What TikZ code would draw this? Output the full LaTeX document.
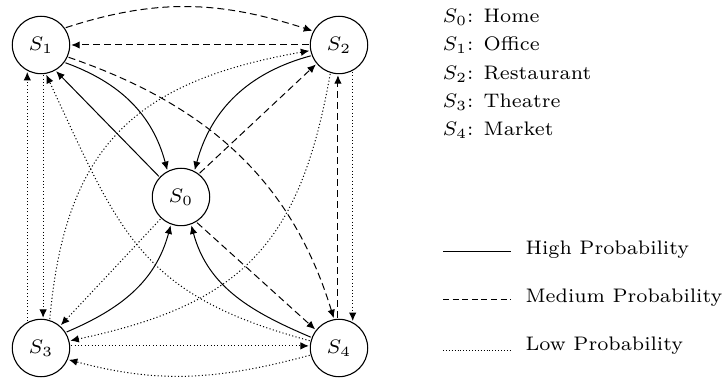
\documentclass[tikz,border=0pt]{standalone}
\usetikzlibrary{arrows.meta}
\begin{document}
\begin{tikzpicture}[x=1pt,y=-1pt,
  lbl/.style={font=\fontsize{7}{8.4}\selectfont, scale=2.8},
  state/.style={circle, draw, line width=1.1pt, minimum size=20.5pt, inner sep=0pt, lbl},
  link/.style={line width=1pt, -{Latex[length=8.5pt,width=7.5pt]}},
  hi/.style={link},
  med/.style={link, dash pattern=on 7pt off 4pt},
  low/.style={link, dash pattern=on 1.1pt off 2.3pt},
  keytext/.style={lbl, anchor=base west, inner sep=0pt},
]
\useasboundingbox (0,0) rectangle (726,379);

% states
\node[state] (S1) at (41,45)   {$S_1$};
\node[state] (S2) at (339,45)  {$S_2$};
\node[state] (S0) at (181,197) {$S_0$};
\node[state] (S3) at (41,348)  {$S_3$};
\node[state] (S4) at (339,348) {$S_4$};

% high probability transitions
\draw[hi] (S0.137) -- (S1.-60);
\draw[hi] (S1.-36) to[out=-20, in=105] (S0.117);
\draw[hi] (S2.201) to[out=195, in=75] (S0.63);
\draw[hi] (S3.32)  to[out=23, in=-105] (S0.-110);
\draw[hi] (S4.159) to[out=157, in=-75] (S0.-70);

% medium probability transitions
\draw[med] (S1.35) to[out=18, in=162] (S2.152);
\draw[med] (S2.west) -- (S1.east);
\draw[med] (S1.-24) to[out=-19, in=107] (S4.100);
\draw[med] (S4.92) -- (S2.-92);
\draw[med] (S0.52) -- (S2.220);
\draw[med] (S0.-58) -- (S4.142);

% low probability transitions
\draw[low] (S3.73)  to[out=85, in=190, looseness=1.2] (S2.191);
\draw[low] (S2.253) to[out=260, in=12, looseness=1.2] (S3.14);
\draw[low] (S4.166) to[out=165, in=-65, looseness=1.2] (S1.-80);
\draw[low] (S3.117) -- (S1.-117);
\draw[low] (S1.-86) -- (S3.86);
\draw[low] (S2.-63) -- (S4.63);
\draw[low] (S0.-133) -- (S3.49);
\draw[low] (S3.4) -- (S4.176);
\draw[low] (S4.194) to[out=195, in=-15] (S3.-23);

% state names
\node[keytext] (n0) at (442,22.5) {$S_0$: Home};
\node[keytext] (n1) at (442,51)   {$S_1$: Office};
\node[keytext] (n2) at (442,79.5) {$S_2$: Restaurant};
\node[keytext] (n3) at (442,108)  {$S_3$: Theatre};
\node[keytext] (n4) at (442,136)  {$S_4$: Market};

% line style key
\coordinate (ka) at (443,252); \coordinate (kb) at (511,252);
\coordinate (kc) at (443,300); \coordinate (kd) at (511,300);
\coordinate (ke) at (443,350); \coordinate (kf) at (511,350);
\draw[line width=1pt] (ka) -- (kb);
\draw[line width=1pt, dash pattern=on 6pt off 3.6pt] (kc) -- (kd);
\draw[line width=0.7pt, dash pattern=on 0.9pt off 2pt] (ke) -- (kf);
\node[keytext] (khi)  at (525,255) {High Probability};
\node[keytext] (kmed) at (525,303) {Medium Probability};
\node[keytext] (klow) at (525,351) {Low Probability};
\end{tikzpicture}
\end{document}
